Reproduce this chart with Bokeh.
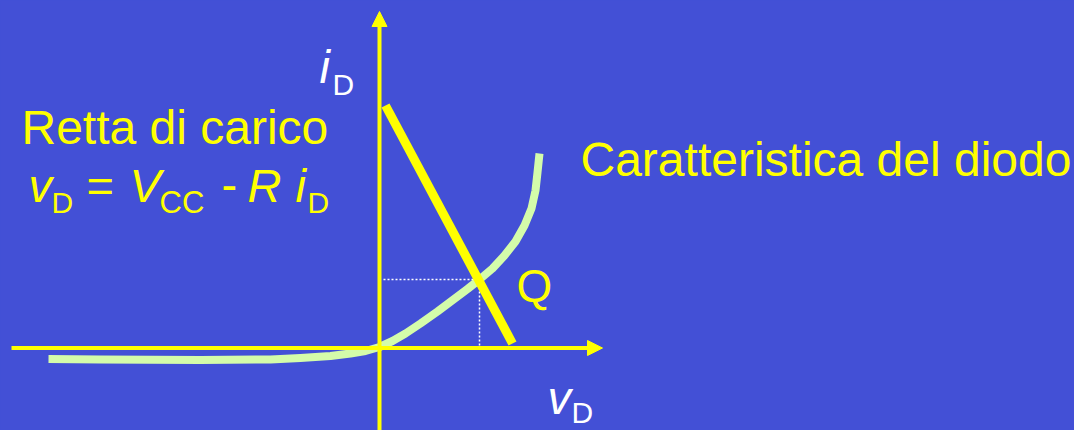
from bokeh.plotting import figure
from bokeh.models import Range1d, Arrow, NormalHead, Label
from bokeh.embed import file_html
from bokeh.resources import INLINE
from jinja2 import Template

# ---------------- data (v_D, i_D in arbitrary units; origin at axes crossing) ----------
diode_vd = [-3.31, -2.79, -1.79, -1.09, -0.79, -0.49, -0.29, -0.14, 0.00, 0.13, 0.26,
            0.41, 0.58, 0.74, 0.88, 1.00, 1.13, 1.25, 1.36, 1.45, 1.52, 1.56, 1.58, 1.60]
diode_id = [-0.115, -0.12, -0.125, -0.12, -0.105, -0.085, -0.06, -0.035, 0.005, 0.065, 0.14,
            0.24, 0.36, 0.48, 0.585, 0.68, 0.79, 0.92, 1.06, 1.22, 1.39, 1.57, 1.75, 1.94]

load_vd = [0.06, 1.33]
load_id = [2.42, 0.04]

q_vd = 1.00
q_id = 0.68

vaxis_start = -3.68   # horizontal (v_D) axis extent
vaxis_end = 2.23
iaxis_start = -0.90   # vertical (i_D) axis extent
iaxis_end = 3.36

title_diode = "Caratteristica del diodo"
title_load = "Retta di carico"
label_q = "Q"

# ---------------- style ----------------
BG = "#4350D6"
YELLOW = "#FFFF00"
GREEN = "#D4FCAA"
WHITE = "#FFFFFF"
FONT = "Liberation Sans"

W, H = 1074, 430
SCALE = 100.0          # pixels per unit
OX, OY = 379, 347      # origin position inside the frame (px from top-left)
BASELINE_FIX = 0.37    # em; compensates the label baseline offset of the renderer

p = figure(width=W, height=H, output_backend="svg", toolbar_location=None,
           x_range=Range1d(-OX / SCALE, (W - OX) / SCALE),
           y_range=Range1d(-(H - OY) / SCALE, OY / SCALE),
           min_border=0, background_fill_color=BG, border_fill_color=BG)
p.axis.visible = False
p.grid.visible = False
p.outline_line_color = None


def pos(px, py):
    """page pixel -> data coordinates (for text placement only)"""
    return (px - OX) / SCALE, (OY - py) / SCALE


def label(text, px, py, size, color, italic=False):
    x, y = pos(px, py - BASELINE_FIX * size)
    p.add_layout(Label(x=x, y=y, text=text, text_font=FONT,
                       text_font_size=f"{size}px", text_color=color,
                       text_font_style="italic" if italic else "normal",
                       text_align="left", text_baseline="alphabetic"))


# horizontal axis (v_D)
p.add_layout(Arrow(end=NormalHead(size=15, fill_color=YELLOW, line_color=YELLOW, line_width=1),
                   x_start=vaxis_start, y_start=-0.005, x_end=vaxis_end, y_end=-0.005,
                   line_color=YELLOW, line_width=4))

# dotted projections of Q
p.line([0.04, q_vd], [q_id, q_id], line_color=WHITE, line_width=1.5, line_dash="2 2")
p.line([q_vd, q_vd], [q_id, 0.0], line_color=WHITE, line_width=1.5, line_dash="2 2")

# diode characteristic
p.line(diode_vd, diode_id, line_color=GREEN, line_width=8, line_cap="butt", line_join="round")

# vertical axis (i_D)
p.add_layout(Arrow(end=NormalHead(size=15, fill_color=YELLOW, line_color=YELLOW, line_width=1),
                   x_start=0.0, y_start=iaxis_start, x_end=0.0, y_end=iaxis_end,
                   line_color=YELLOW, line_width=4))

# load line
p.line(load_vd, load_id, line_color=YELLOW, line_width=9, line_cap="butt")

# ---------------- texts ----------------
label(title_diode, 580, 177, 48, YELLOW)
label(title_load, 21, 145, 48, YELLOW)

# v_D = V_CC - R i_D
label("v", 28, 202, 47, YELLOW, italic=True)
label("D", 51, 213, 30, YELLOW)
label("=", 86, 202, 47, YELLOW)
label("V", 129, 202, 47, YELLOW, italic=True)
label("CC", 159, 213, 31, YELLOW)
label("-", 221, 202, 47, YELLOW)
label("R", 247, 202, 47, YELLOW, italic=True)
label("i", 295, 202, 47, YELLOW, italic=True)
label("D", 307, 213, 30, YELLOW)

# axis names
label("i", 319, 83, 47, WHITE, italic=True)
label("D", 332, 95, 30, WHITE)
label("v", 547, 414, 47, WHITE, italic=True)
label("D", 571, 423, 30, WHITE)

# operating point
label(label_q, 516, 303, 46, YELLOW)

TEMPLATE = Template("""{% extends base %}
{% block postamble %}<style>html, body { background-color: """ + BG + """; }</style>{% endblock %}
""")

open("out.html", "w").write(file_html(p, INLINE, title="Retta di carico", template=TEMPLATE))
